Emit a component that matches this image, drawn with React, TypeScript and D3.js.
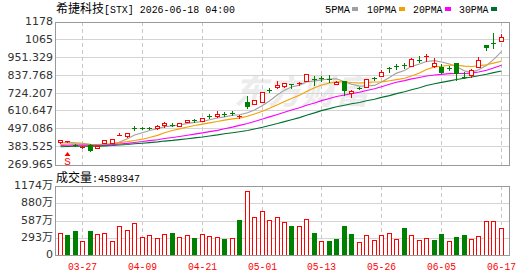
import React from 'react';
import * as d3 from 'd3';

const dates = ['03-24','03-25','03-26','03-27','03-30','03-31','04-01','04-02','04-06','04-07','04-08','04-09','04-10','04-13','04-14','04-15','04-16','04-17','04-20','04-21','04-22','04-23','04-24','04-27','04-28','04-29','04-30','05-01','05-04','05-05','05-06','05-07','05-08','05-11','05-12','05-13','05-14','05-15','05-18','05-19','05-20','05-21','05-22','05-26','05-27','05-28','05-29','06-01','06-02','06-03','06-04','06-05','06-08','06-09','06-10','06-11','06-12','06-15','06-16','06-17'];
const xTickDates = ['03-27','04-09','04-21','05-01','05-13','05-26','06-05','06-17'];

const open = [410,414,395,382,395,376,406,406,456,454,502,505,505,500,521,524,517,542,551,547,580,576,594,600,574,666,656,668,746,761,767,781,780,801,815,822,811,782,801,725,759,765,817,834,882,897,901,897,935,952,899,887,884,916,825,842,889,1028,1044,1055];
const high = [425,422,398,386,399,386,428,432,469,471,514,511,511,519,538,532,533,555,557,565,593,609,605,608,582,704,680,731,757,798,790,785,792,845,830,834,841,799,803,746,765,816,828,868,893,912,916,945,962,975,948,906,897,918,860,879,952,1030,1106,1099];
const low = [408,412,388,378,353,372,404,404,455,443,489,496,497,498,508,514,515,540,540,545,565,574,580,582,565,631,654,666,732,759,761,757,778,799,778,798,792,780,715,700,748,763,805,832,855,878,885,895,923,929,887,853,868,807,818,828,887,996,1011,1053];
const close = [423,420,392,384,363,385,426,431,459,470,499,502,502,514,536,521,532,553,547,563,576,588,590,597,580,639,679,729,742,778,786,778,790,843,812,818,807,797,746,735,756,814,813,855,879,894,898,943,932,960,918,855,881,851,822,870,937,1019,1034,1080];
// closes before the visible window (only used by the moving averages)
const priorCloses = [360,372,365,370,362,375,368,364,371,363,380,388,379,385,390,382,387,381,386,382,392,385,390,388,390,398,405,400,405];

// volume in 万 shares
const volume = [382,343,410,230,410,360,377,242,495,427,546,309,343,292,360,382,309,343,292,360,326,309,275,292,601,1086,647,748,596,647,562,495,495,613,382,242,242,275,495,360,225,343,258,343,377,275,461,343,258,292,258,360,242,309,343,275,326,579,579,459];
const volUp = [1,0,0,1,0,1,1,1,1,1,1,1,1,1,1,0,1,1,0,1,1,1,0,1,0,1,1,1,1,1,1,0,1,1,0,1,0,0,0,0,1,1,1,1,1,1,0,1,1,1,0,0,1,0,0,1,1,1,1,1];

const priceTicks = [1178, 1064.89, 951.329, 837.768, 724.207, 610.647, 497.086, 383.525, 269.965];
const priceTickLabels = ['1178','1065','951.329','837.768','724.207','610.647','497.086','383.525','269.965'];
const volTicks = [1174, 880.5, 587, 293.5, 0];
const volTickLabels = ['1174万','880万','587万','293万','0'];

const maPeriods = [5, 10, 20, 30];
const maNames = ['5PMA', '10PMA', '20PMA', '30PMA'];
const maColors = ['#a0a0a0', '#f5a000', '#ff00ff', '#007030'];

const RED = '#ff0000';
const GREEN = '#008000';

export default function App() {
  const L = 55, R = 509, PT = 22, PB = 165, VT = 186, VB = 255;
  const n = close.length;
  const x = d3.scaleBand<number>().domain(d3.range(n)).range([55.86, 504.66]);
  const col = (i: number) => Math.round((x(i) as number) + x.bandwidth() / 2);
  const y = d3.scaleLinear().domain([269.965, 1178]).range([164.5, 21.7]);
  const yv = d3.scaleLinear().domain([0, 1174]).range([VB, VT]);

  const all = priorCloses.concat(close);
  const off = priorCloses.length;
  const mas = maPeriods.map(p => close.map((_, i) => d3.mean(all.slice(off + i - p + 1, off + i + 1)) as number));
  const line = d3.line<number>().x((_, i) => col(i) + 0.5).y(d => y(d));

  const mono = "'Liberation Mono', 'DejaVu Sans Mono', monospace";
  const cjk = "'Noto Sans CJK SC', sans-serif";
  const axisFont = "'DejaVu Sans', 'Noto Sans CJK SC', sans-serif";

  const tickCols = xTickDates.map(d => col(dates.indexOf(d)));

  const legendX = [325, 367, 413, 459];
  const legendW = [25, 29.5, 29.5, 29.5];

  return (
    <svg width={530} height={276} style={{ position: 'absolute', left: 0, top: 0, background: '#fff' }}
      shapeRendering="crispEdges">
      <rect x={0} y={0} width={530} height={276} fill="#fff" />
      {/* title */}
      <text x={56} y={13} fontFamily={cjk} fontSize={12} fill="#000" shapeRendering="auto">希捷科技</text>
      <text x={104} y={13} fontFamily={mono} fontSize={11} fill="#000" textLength={131} lengthAdjust="spacingAndGlyphs">[STX] 2026-06-18 04:00</text>
      {/* legend */}
      {maNames.map((nm, k) => (
        <g key={nm}>
          <text x={legendX[k]} y={13} fontFamily={mono} fontSize={11} fill="#000" textLength={legendW[k]} lengthAdjust="spacingAndGlyphs">{nm}</text>
          <rect x={legendX[k] + legendW[k] + 2} y={7} width={6} height={4} fill={maColors[k]} />
        </g>
      ))}

      {/* watermark */}
      <text x={234} y={104} fontFamily={cjk} fontSize={34} fontWeight={700} fontStyle="italic" fill="#ececec" textLength={135} lengthAdjust="spacingAndGlyphs">东方财富</text>

      {/* price grid */}
      {priceTicks.slice(1, -1).map((t, k) => (
        <line key={'hg' + k} x1={L} x2={R} y1={Math.floor(y(t)) + 0.5} y2={Math.floor(y(t)) + 0.5} stroke="#d4d4d4" />
      ))}
      {tickCols.map((c, k) => (
        <g key={'vg' + k}>
          <line x1={c + 0.5} x2={c + 0.5} y1={PT} y2={PB} stroke="#c8c8c8" strokeDasharray="4,3" />
          <line x1={c + 0.5} x2={c + 0.5} y1={VT} y2={VB} stroke="#c8c8c8" strokeDasharray="4,3" />
        </g>
      ))}
      {volTicks.slice(1, -1).map((t, k) => (
        <line key={'vhg' + k} x1={L} x2={R} y1={Math.round(yv(t)) + 0.5} y2={Math.round(yv(t)) + 0.5} stroke="#d4d4d4" />
      ))}

      {/* moving averages */}
      <g shapeRendering="auto">
        {mas.map((m, k) => (
          <path key={'ma' + k} d={line(m) as string} fill="none" stroke={maColors[k]} strokeWidth={1.1} />
        ))}
      </g>

      {/* candles */}
      {close.map((c, i) => {
        const o = open[i];
        const cc = col(i);
        const up = c >= o;
        const color = up ? RED : GREEN;
        const yTop = Math.round(y(Math.max(o, c)));
        const yBot = Math.round(y(Math.min(o, c)));
        const yH = Math.round(y(high[i]));
        const yL = Math.round(y(low[i]));
        if (yBot - yTop <= 1) {
          return (
            <g key={'c' + i}>
              <line x1={cc + 0.5} x2={cc + 0.5} y1={yH} y2={yL + 1} stroke={color} />
              <rect x={cc - 2} y={yTop} width={5} height={Math.max(1, yBot - yTop)} fill={color} />
            </g>
          );
        }
        if (up) {
          return (
            <g key={'c' + i}>
              <line x1={cc + 0.5} x2={cc + 0.5} y1={yH} y2={yTop} stroke={color} />
              <line x1={cc + 0.5} x2={cc + 0.5} y1={yBot + 1} y2={yL + 1} stroke={color} />
              <rect x={cc - 1.5} y={yTop + 0.5} width={4} height={yBot - yTop} fill="#fff" stroke={color} />
            </g>
          );
        }
        return (
          <g key={'c' + i}>
            <line x1={cc + 0.5} x2={cc + 0.5} y1={yH} y2={yL + 1} stroke={color} />
            <rect x={cc - 2} y={yTop} width={5} height={yBot - yTop + 1} fill={color} />
          </g>
        );
      })}

      {/* S marker */}
      {(() => {
        const cc = col(1);
        return (
          <g fill={RED}>
            <path d={`M${cc + 0.5},152 L${cc + 3.5},156 L${cc - 2.5},156 Z`} shapeRendering="auto" />
            <text x={cc + 0.5} y={165} fontFamily={mono} fontSize={11} textAnchor="middle">S</text>
          </g>
        );
      })()}

      {/* volume bars */}
      {volume.map((v, i) => {
        const cc = col(i);
        const top = Math.round(yv(v));
        return volUp[i] ? (
          <rect key={'v' + i} x={cc - 1.5} y={top + 0.5} width={4} height={VB - top} fill="#fff" stroke={RED} />
        ) : (
          <rect key={'v' + i} x={cc - 2} y={top} width={5} height={VB - top + 1} fill={GREEN} />
        );
      })}

      {/* frames */}
      <rect x={L + 0.5} y={PT + 0.5} width={R - L} height={PB - PT} fill="none" stroke="#999" />
      <rect x={L + 0.5} y={VT + 0.5} width={R - L} height={VB - VT} fill="none" stroke="#999" />

      {/* price labels */}
      {priceTicks.map((t, k) => (
        <text key={'pl' + k} x={53} y={Math.floor(y(t)) + 0.5} dy="0.35em" textAnchor="end" fontFamily={axisFont} fontSize={11} fill="#333">{priceTickLabels[k]}</text>
      ))}

      {/* volume title */}
      <text x={56} y={182} fontFamily={cjk} fontSize={12} fill="#000">成交量</text>
      <text x={92} y={182} fontFamily={mono} fontSize={11} fill="#000" textLength={48} lengthAdjust="spacingAndGlyphs">:4589347</text>

      {/* volume labels */}
      {volTicks.map((t, k) => (
        <text key={'vl' + k} x={53} y={Math.round(yv(t)) - 0.5} dy="0.35em" textAnchor="end" fontFamily={axisFont} fontSize={11} fill="#333">{volTickLabels[k]}</text>
      ))}

      {/* date labels */}
      {xTickDates.map((d, k) => (
        <text key={'xl' + k} x={tickCols[k] + 0.5} y={269.5} textAnchor="middle" fontFamily={mono} fontSize={11} fill={RED} textLength={29} lengthAdjust="spacingAndGlyphs">{d}</text>
      ))}
    </svg>
  );
}
